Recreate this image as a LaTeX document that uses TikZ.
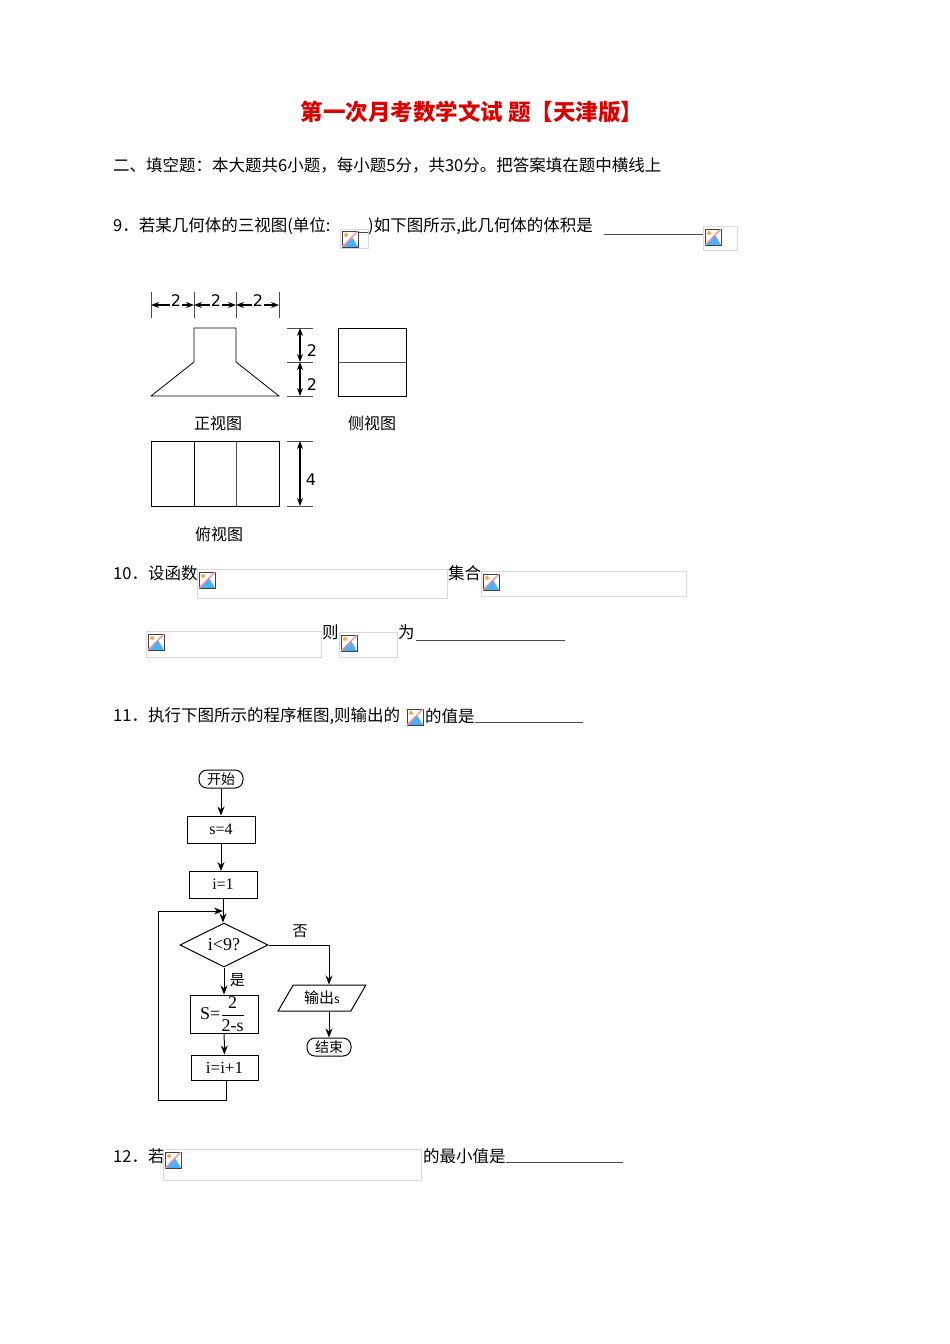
\documentclass[tikz,border=0pt]{standalone}
\usepackage{fontspec}
\setmainfont{Liberation Serif}
\newfontfamily\cjk{Noto Sans CJK SC}
\newfontfamily\dvs{DejaVu Sans}
\usetikzlibrary{arrows.meta,shapes.geometric}
\tikzset{
  txt/.style={anchor=west,inner sep=0pt,font=\cjk\fontsize{16.5}{18}\selectfont},
  lbl/.style={inner sep=0pt,font=\cjk\fontsize{16}{18}\selectfont},
  dimn/.style={inner sep=0pt,font=\dvs\fontsize{16}{18}\selectfont},
  ph/.style={draw=black!15,line width=0.8pt},
  blank/.style={line width=0.5pt,draw=black!70},
  thin/.style={line width=0.8pt},
  dimline/.style={line width=0.5pt,draw=black!70},
  darr/.style={line width=1.1pt,{Stealth[length=8pt,width=6pt]}-{Stealth[length=8pt,width=6pt]}},
  fbox/.style={draw,line width=1pt,minimum width=68pt,minimum height=27pt,inner sep=1pt,font=\fontsize{16}{18}\selectfont},
  term/.style={draw,line width=1pt,rounded corners=8pt,minimum width=44pt,minimum height=18pt,inner sep=1pt,font=\cjk\fontsize{14}{15}\selectfont},
  farr/.style={line width=1pt,-{Stealth[length=9pt,width=7pt]}},
  phicon/.pic={
    \fill[white] (0,0) rectangle (18,18);
    \fill[blue!45!cyan!70] (2,17) -- (11,7) -- (17,17) -- cycle;
    \fill[orange!70] (5,5) circle (2);
    \draw[black!75,line width=1pt] (1,1) rectangle (17,17);
    \draw[red!45,line width=1.3pt] (1,17) -- (17,1);
  }
}
\begin{document}
\begin{tikzpicture}[x=1pt,y=-1pt]
\useasboundingbox (0,0) rectangle (950,1344);
% title
\node[inner sep=0pt,text=red!85!black,font=\cjk\bfseries\fontsize{22.5}{24}\selectfont] (title) at (472,112) {第一次月考数学文试 题【天津版】};
\node[txt] (l1) at (113,165) {二、填空题：本大题共6小题，每小题5分，共30分。把答案填在题中横线上};
% Q9
\node[txt] (q9a) at (113,226) {9．若某几何体的三视图(单位:};
\draw[blank] (340,232) -- (368,232);
\draw[ph] (340,229) rectangle (368,248); \pic at (341,230) {phicon};
\node[txt] (q9b) at (368,226) {)如下图所示,此几何体的体积是};
\draw[blank] (604,234) -- (703,234);
\draw[ph] (703,226) rectangle (737,250); \pic at (704,228) {phicon};
% three views
\draw[thin] (151,396) -- (194,362) -- (194,328) -- (236,328) -- (236,362) -- (279,396) -- cycle;
\foreach \x in {151,194,236,279} \draw[dimline] (\x,292) -- (\x,318);
\draw[darr] (151,305) -- (194,305);
\draw[darr] (194,305) -- (236,305);
\draw[darr] (236,305) -- (279,305);
\node[dimn,fill=white,inner sep=0.5pt] (d1) at (176,301) {2};
\node[dimn,fill=white,inner sep=0.5pt] (d2) at (216,301) {2};
\node[dimn,fill=white,inner sep=0.5pt] (d3) at (258,301) {2};
\foreach \y in {328,362,396} \draw[dimline] (287,\y) -- (313,\y);
\draw[darr] (300,328) -- (300,362);
\draw[darr] (300,362) -- (300,396);
\node[dimn] (d4) at (312,351) {2};
\node[dimn] (d5) at (312,385) {2};
\draw[thin] (338,328) rectangle (406,396);
\draw[dimline] (338,362) -- (406,362);
\node[lbl] (zs) at (218,423) {正视图};
\node[lbl] (cs) at (372,423) {侧视图};
\draw[thin] (151,441) rectangle (279,506);
\draw[thin] (194,441) -- (194,506);
\draw[dimline] (236,441) -- (236,506);
\draw[dimline] (287,441) -- (313,441);
\draw[dimline] (287,506) -- (313,506);
\draw[darr] (300,441) -- (300,506);
\node[dimn] (d6) at (311,480) {4};
\node[lbl] (fs) at (219,534) {俯视图};
% Q10
\node[txt] (q10a) at (113,573) {10．设函数};
\draw[ph] (197,569) rectangle (447,598); \pic at (198,571) {phicon};
\node[txt] (q10b) at (448,573) {集合};
\draw[ph] (481,571) rectangle (686,596); \pic at (482,573) {phicon};
\draw[ph] (146,631) rectangle (321,657); \pic at (147,633) {phicon};
\node[txt] (q10c) at (322,632) {则};
\draw[ph] (339,632) rectangle (397,657); \pic at (340,634) {phicon};
\node[txt] (q10d) at (398,632) {为};
\draw[blank] (416,640) -- (565,640);
% Q11
\node[txt] (q11a) at (113,716) {11．执行下图所示的程序框图,则输出的};
\pic at (406,708) {phicon};
\node[txt] (q11b) at (425,716) {的值是};
\draw[blank] (475,722) -- (583,722);
% flowchart
\node[term] (start) at (221,779) {开始};
\node[fbox] (s4) at (221,829.5) {s=4};
\node[fbox] (i1) at (223,884.5) {i=1};
\coordinate (j) at (223,911);
\node[draw,diamond,aspect=2,line width=1pt,minimum width=88pt,minimum height=44pt,inner sep=0pt,font=\fontsize{18}{20}\selectfont] (dec) at (224,945) {i<9?};
\node[fbox,minimum height=38pt,font=\fontsize{18}{20}\selectfont] (sb) at (224,1014) {S=$\displaystyle\frac{\textrm{2}}{\textrm{2-s}}$\,};
\node[fbox,minimum width=67pt,minimum height=25pt,font=\fontsize{17}{18}\selectfont] (ii) at (224.5,1067.5) {i=i+1};
\node[draw,trapezium,trapezium left angle=60,trapezium right angle=120,line width=1pt,minimum height=26pt,minimum width=60pt,inner sep=2pt,font=\cjk\fontsize{15}{16}\selectfont] (out) at (322,998) {输出\fontsize{12}{12}\selectfont s};
\node[term] (end) at (329,1047) {结束};
\draw[farr] (start) -- (s4);
\draw[farr] (s4.south -| 221,0) -- (221,871);
\draw[farr] (i1.south -| j) -- (dec.north -| j);
\draw[farr] (dec) -- (sb) node[pos=0.45,right=2pt,font=\cjk\fontsize{15}{16}\selectfont] (yes) {是};
\draw[farr] (sb) -- (ii);
\draw[line width=1pt,-{Stealth[length=9pt,width=7pt]}] (ii.south -| 226,0) -- (226,1100) -- (158,1100) -- (158,911) -- (j);
\draw[farr] (dec.east) -- (329,945) -- (out.north -| 329,0);
\node[font=\cjk\fontsize{15}{16}\selectfont] (no) at (300,931) {否};
\draw[farr] (out.south -| 329,0) -- (end);
% Q12
\node[txt] (q12a) at (113,1156) {12．若};
\draw[ph] (163,1149) rectangle (421,1180); \pic at (164,1151) {phicon};
\node[txt] (q12b) at (423,1156) {的最小值是};
\draw[blank] (506,1162) -- (623,1162);
\end{tikzpicture}
\end{document}
